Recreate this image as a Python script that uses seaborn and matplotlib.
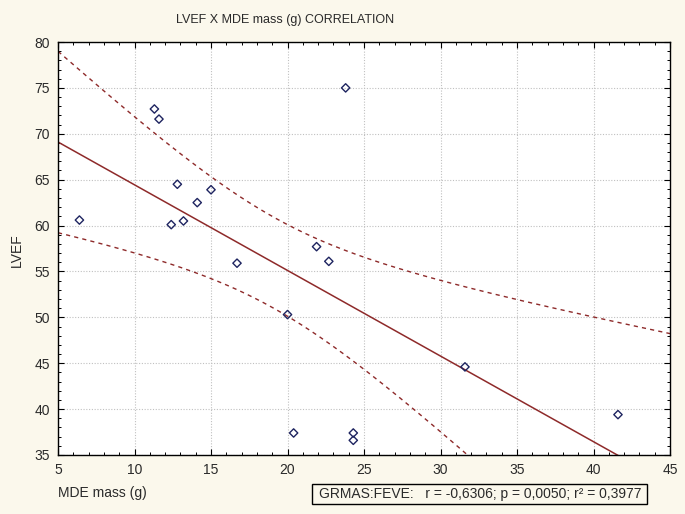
import numpy as np
import pandas as pd
import matplotlib
matplotlib.use("Agg")
import matplotlib.pyplot as plt
import seaborn as sns
from matplotlib.ticker import MultipleLocator
from matplotlib.patches import Rectangle

# ---- data ----
mde_mass = [6.4, 11.3, 11.6, 12.8, 12.4, 13.2, 14.1, 15.0, 16.7, 23.8,
            21.9, 22.7, 20.0, 20.4, 24.3, 24.3, 31.6, 41.6]
lvef = [60.6, 72.7, 71.6, 64.5, 60.1, 60.5, 62.5, 63.9, 55.9, 75.0,
        57.7, 56.1, 50.3, 37.4, 37.4, 36.6, 44.6, 39.4]
x_ticks = [5, 10, 15, 20, 25, 30, 35, 40, 45]
y_ticks = [35, 40, 45, 50, 55, 60, 65, 70, 75, 80]
title = "LVEF X MDE mass (g) CORRELATION"
stat_text = "GRMAS:FEVE:   r = -0,6306; p = 0,0050; r\u00b2 = 0,3977"

df = pd.DataFrame({"x": mde_mass, "y": lvef})

sns.set_theme(style="white")
plt.rcParams["font.family"] = ["Liberation Sans", "DejaVu Sans"]

BG = "#FBF8EC"
LINE = "#8E2A2A"
PT = "#1E2460"
TXT = "#2A2A2A"

fig = plt.figure(figsize=(6.85, 5.14), dpi=100, facecolor=BG)
ax = fig.add_axes([58/685, 1-455/514, (670-58)/685, (455-42)/514])
ax.set_facecolor("white")

# regression and 95% confidence band of the mean
x = np.asarray(mde_mass, float)
y = np.asarray(lvef, float)
n = len(x)
b1, b0 = np.polyfit(x, y, 1)
resid = y - (b0 + b1 * x)
s = np.sqrt(np.sum(resid**2) / (n - 2))
sxx = np.sum((x - x.mean())**2)
t = 2.120
xs = np.linspace(5, 45, 200)
yhat = b0 + b1 * xs
se = s * np.sqrt(1/n + (xs - x.mean())**2 / sxx)
fit = pd.DataFrame({"x": xs, "fit": yhat, "lo": yhat - t*se, "hi": yhat + t*se})

sns.lineplot(data=fit, x="x", y="fit", ax=ax, color=LINE, lw=1.1)
sns.lineplot(data=fit, x="x", y="lo", ax=ax, color=LINE, lw=1.0, linestyle=(0, (3, 3)))
sns.lineplot(data=fit, x="x", y="hi", ax=ax, color=LINE, lw=1.0, linestyle=(0, (3, 3)))

sns.scatterplot(data=df, x="x", y="y", ax=ax, marker="D", s=18,
                facecolor="none", edgecolor=PT, linewidth=1.0, zorder=5)

ax.set_xlim(5, 45)
ax.set_ylim(35, 80)
ax.set_xticks(x_ticks)
ax.set_yticks(y_ticks)
ax.xaxis.set_minor_locator(MultipleLocator(1))
ax.yaxis.set_minor_locator(MultipleLocator(1))
ax.tick_params(which="both", direction="in", top=True, right=True, bottom=True, left=True,
               color="black")
ax.tick_params(which="major", length=4, width=0.8, labelsize=10, colors="black",
               labelcolor=TXT, pad=6)
ax.tick_params(which="minor", length=2.5, width=0.7)
ax.grid(True, which="major", color="#C0C0C0", linestyle=(0, (1, 1.5)), linewidth=0.8)
for sp in ax.spines.values():
    sp.set_visible(True)
    sp.set_color("black")
    sp.set_linewidth(1.0)

ax.set_xlabel("")
ax.set_ylabel("")
fig.text(285/685, 1-20/514, title, ha="center", va="center", color=TXT, fontsize=9)
fig.text(17/685, 1-250/514, "LVEF", rotation=90, ha="center", va="center", fontsize=10,
         color=TXT)
fig.text(58/685, 1-493/514, "MDE mass (g)", ha="left", va="center", fontsize=10,
         color=TXT)

# stat box
fig.patches.append(Rectangle((312/685, 1-504/514), (647-312)/685, (504-484)/514,
                             transform=fig.transFigure, facecolor=BG, edgecolor="black",
                             linewidth=1.0, zorder=1))
fig.text(480/685, 1-494/514, stat_text, ha="center", va="center", fontsize=10,
         color=TXT, zorder=2)

fig.savefig("out.png", dpi=100, facecolor=BG)
